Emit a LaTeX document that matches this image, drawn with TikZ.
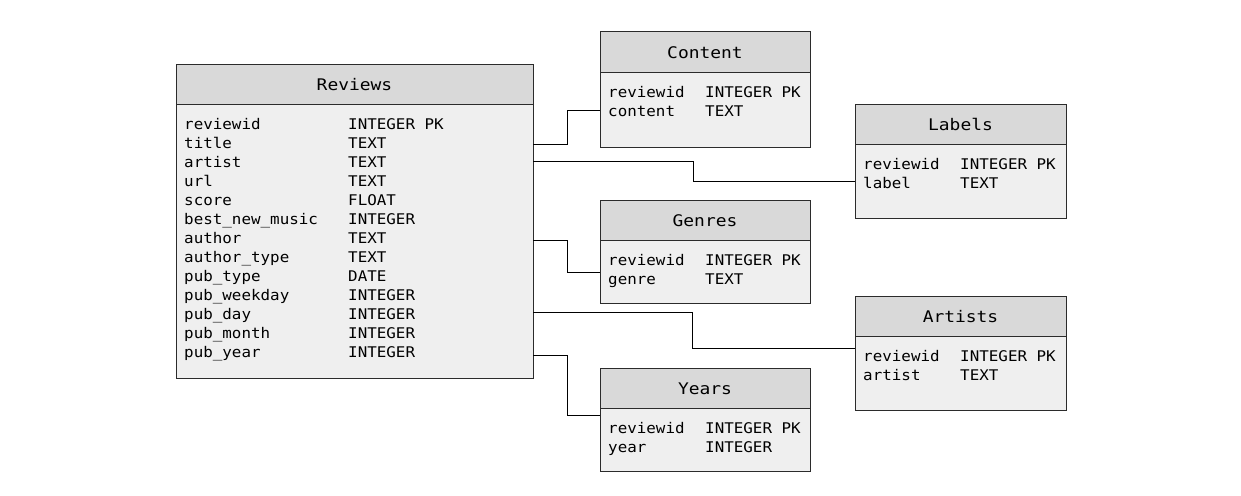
\documentclass[tikz,border=0pt]{standalone}
\usepackage{fontspec}
\newfontfamily\bodyfont[FakeStretch=1.08]{DejaVu Sans Mono}
\newfontfamily\titlefont[FakeStretch=1.12]{DejaVu Sans Mono}
\usetikzlibrary{calc}
\definecolor{hdr}{HTML}{D9D9D9}
\definecolor{bdy}{HTML}{EFEFEF}
\definecolor{edge}{HTML}{2B2B2B}
\tikzset{
  tbl/.style={draw=edge, fill=bdy, line width=1pt, anchor=north west, inner sep=0pt, outer sep=0pt},
  hdrbox/.style={draw=edge, fill=hdr, line width=1pt, anchor=north west, inner sep=0pt, outer sep=0pt, minimum height=40pt},
  ttl/.style={anchor=base, inner sep=0pt, font=\titlefont\fontsize{16}{19}\selectfont},
  fld/.style={anchor=base west, inner sep=0pt, font=\bodyfont\fontsize{14.7}{19}\selectfont},
  conn/.style={draw=black, line width=1pt},
}
\newcommand\mktable[6]{%
  \node[tbl, minimum width=#4pt, minimum height=#5pt] (#1) at (#2,#3) {};
  \node[hdrbox, minimum width=#4pt] (#1h) at (#2,#3) {};
  \node[ttl] (#1t) at ($(#1h.north)+(0,26.5)$) {#6};
}
\begin{document}
\begin{tikzpicture}[x=1pt,y=-1pt]
  \fill[white] (0,0) rectangle (1241,495);
  \useasboundingbox (0,0) rectangle (1241,495);

  \mktable{rev}{176}{64}{357}{314}{Reviews}
  \mktable{cont}{600}{32}{210}{115}{Content}
  \mktable{lab}{855}{104}{211}{114}{Labels}
  \mktable{gen}{600}{200}{210}{103}{Genres}
  \mktable{art}{855}{296}{211}{114}{Artists}
  \mktable{yrs}{600}{368}{210}{103}{Years}

  \foreach \a/\b [count=\i from 0] in {reviewid/INTEGER PK, title/TEXT, artist/TEXT, url/TEXT, score/FLOAT, best\_new\_music/INTEGER, author/TEXT, author\_type/TEXT, pub\_type/DATE, pub\_weekday/INTEGER, pub\_day/INTEGER, pub\_month/INTEGER, pub\_year/INTEGER} {
    \node[fld] (revn\i) at ($(rev.north west)+(8,65+19*\i)$) {\a};
    \node[fld] (revy\i) at ($(rev.north west)+(172,65+19*\i)$) {\b};
  }
  \foreach \t/\a/\b in {cont/content/TEXT, lab/label/TEXT, gen/genre/TEXT, art/artist/TEXT, yrs/year/INTEGER} {
    \node[fld] (\t n0) at ($(\t.north west)+(8,65)$) {reviewid};
    \node[fld] (\t y0) at ($(\t.north west)+(105,65)$) {INTEGER PK};
    \node[fld] (\t n1) at ($(\t.north west)+(8,84)$) {\a};
    \node[fld] (\t y1) at ($(\t.north west)+(105,84)$) {\b};
  }

  \coordinate (j1) at (567,144);
  \coordinate (j2) at (693,161);
  \coordinate (j3) at (567,240);
  \coordinate (j4) at (692.5,312.5);
  \coordinate (j5) at (567,355);
  \draw[conn] (rev.east |- j1) -- (j1) |- (cont.west |- 0,110);
  \draw[conn] (rev.east |- j2) -- (j2) |- (lab.west |- 0,181.5);
  \draw[conn] (rev.east |- j3) -- (j3) |- (gen.west |- 0,272);
  \draw[conn] (rev.east |- j4) -- (j4) |- (art.west |- 0,348);
  \draw[conn] (rev.east |- j5) -- (j5) |- (yrs.west |- 0,415.5);
\end{tikzpicture}
\end{document}
